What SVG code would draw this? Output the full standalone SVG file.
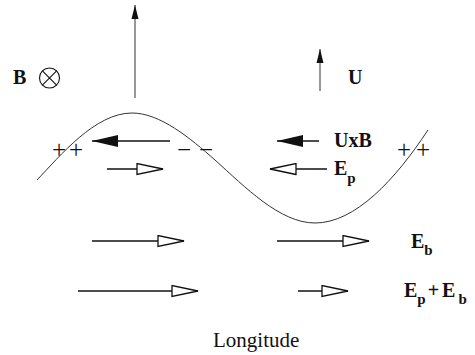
<svg xmlns="http://www.w3.org/2000/svg" width="475" height="355" viewBox="0 0 475 355">
<style>
.lbl{font-family:"Liberation Serif","Times New Roman",serif;font-weight:bold;font-size:20px;fill:#111}
.sub{font-size:15px}
.chg{font-family:"Liberation Serif","Times New Roman",serif;font-size:25px;fill:#111}
.reg{font-family:"Liberation Serif","Times New Roman",serif;font-size:21px;fill:#111}
.ln{fill:none;stroke:#111;stroke-width:1.3}
.vl{fill:none;stroke:#333;stroke-width:1}
</style>
<defs>
<marker id="open" markerUnits="userSpaceOnUse" viewBox="0 0 28 13" refX="27" refY="6.5" markerWidth="28" markerHeight="13" orient="auto">
<path d="M1,1 L27,6.5 L1,12 Z" fill="#fff" stroke="#111" stroke-width="1.3"/>
</marker>
<marker id="solid" markerUnits="userSpaceOnUse" viewBox="0 0 26 12" refX="26" refY="6" markerWidth="26" markerHeight="12" orient="auto">
<path d="M0,0 L26,6 L0,12 Z" fill="#111"/>
</marker>
<marker id="up" markerUnits="userSpaceOnUse" viewBox="0 0 14 8" refX="14" refY="4" markerWidth="14" markerHeight="8" orient="auto">
<path d="M0,0.5 L14,4 L0,7.5 Z" fill="#111"/>
</marker>
</defs>

<g id="wave">
<path class="vl" stroke="#111" d="M37,180 C60,156 95,113 132,113 C160,113 190,138 215,160 C245,187 280,223 315,223 C355,223 395,180 428,130"/>
</g>

<g id="connectors">
<path class="vl" d="M135,98 L135,5" marker-end="url(#up)"/>
<path class="vl" d="M320,91 L320,49" marker-end="url(#up)"/>
<path class="ln" d="M170,141 L92,141" marker-end="url(#solid)"/>
<path class="ln" d="M319,141 L277,141" marker-end="url(#solid)"/>
<path class="ln" d="M107,169 L163,169" marker-end="url(#open)"/>
<path class="ln" d="M327,169 L270,169" marker-end="url(#open)"/>
<path class="ln" d="M92,241 L184,241" marker-end="url(#open)"/>
<path class="ln" d="M277,241 L369,241" marker-end="url(#open)"/>
<path class="ln" d="M78,291 L198,291" marker-end="url(#open)"/>
<path class="ln" d="M298,291 L348,291" marker-end="url(#open)"/>
</g>

<g id="field-B">
<text class="lbl" x="13" y="84">B</text>
<circle cx="49.5" cy="78" r="10" fill="none" stroke="#111" stroke-width="1.1"/>
<path d="M42.4,70.9 L56.6,85.1 M56.6,70.9 L42.4,85.1" stroke="#111" stroke-width="1.1"/>
</g>

<g id="label-U"><text class="lbl" x="348" y="84">U</text></g>
<g id="label-UxB"><text class="lbl" x="334" y="147">UxB</text></g>
<g id="label-Ep"><text class="lbl" x="334" y="175">E<tspan class="sub" dy="8">p</tspan></text></g>
<g id="label-Eb"><text class="lbl" x="411" y="248">E<tspan class="sub" dy="7">b</tspan></text></g>
<g id="label-EpEb"><text class="lbl" x="404" y="297">E<tspan class="sub" dy="7">p</tspan><tspan dy="-7" dx="2">+</tspan><tspan dx="3">E</tspan><tspan class="sub" dx="3" dy="7">b</tspan></text></g>

<g id="charges-left"><text class="chg" x="52" y="158"><tspan x="52">+</tspan><tspan x="69">+</tspan></text></g>
<g id="charges-mid"><text class="chg" x="177" y="158"><tspan x="177">−</tspan><tspan x="199">−</tspan></text></g>
<g id="charges-right"><text class="chg" x="397" y="158"><tspan x="397">+</tspan><tspan x="416">+</tspan></text></g>

<g id="axis-label"><text class="reg" x="213" y="347">Longitude</text></g>
</svg>
